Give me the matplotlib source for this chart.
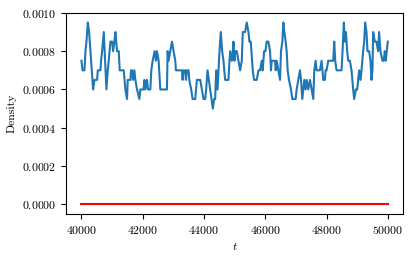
import matplotlib
matplotlib.use("Agg")
import matplotlib.pyplot as plt

plt.rcParams["font.family"] = "serif"
plt.rcParams["font.serif"] = ["cmr10"]
plt.rcParams["mathtext.fontset"] = "cm"
plt.rcParams["axes.formatter.use_mathtext"] = True
plt.rcParams["font.size"] = 8.5

t = [40000, 40033, 40098, 40131, 40163, 40207, 40250, 40294, 40337, 40380,
     40424, 40511, 40533, 40619, 40641, 40674, 40728, 40771, 40815, 40858,
     40891, 40945, 41000, 41032, 41076, 41108, 41162, 41217, 41249, 41380,
     41434, 41488, 41510, 41597, 41619, 41651, 41684, 41727, 41760, 41814,
     41889, 41922, 42030, 42052, 42085, 42139, 42172, 42248, 42280, 42324,
     42389, 42432, 42465, 42519, 42574, 42791, 42812, 42845, 42899, 42954,
     43008, 43062, 43084, 43279, 43301, 43334, 43388, 43410, 43442, 43497,
     43518, 43583, 43627, 43714, 43768, 43877, 43931, 43985, 44039, 44071,
     44115, 44158, 44202, 44245, 44289, 44332, 44365, 44397, 44419, 44441,
     44473, 44506, 44549, 44593, 44636, 44690, 44799, 44832, 44853, 44908,
     44940, 44962, 44995, 45016, 45071, 45125, 45179, 45234, 45266, 45342,
     45396, 45451, 45483, 45527, 45592, 45635, 45722, 45777, 45831, 45885,
     45918, 45961, 46005, 46047, 46102, 46156, 46188, 46210, 46319, 46341,
     46373, 46427, 46482, 46514, 46558, 46590, 46623, 46666, 46699, 46731,
     46775, 46840, 46884, 46992, 47025, 47079, 47133, 47166, 47188, 47209,
     47242, 47274, 47318, 47351, 47405, 47459, 47513, 47568, 47600, 47644,
     47676, 47785, 47839, 47894, 47948, 47970, 48002, 48056, 48164, 48219,
     48251, 48284, 48327, 48490, 48523, 48566, 48599, 48631, 48675, 48707,
     48762, 48816, 48870, 48903, 48957, 49001, 49033, 49066, 49109, 49142,
     49196, 49229, 49261, 49305, 49337, 49391, 49435, 49468, 49500, 49522,
     49576, 49630, 49685, 49717, 49761, 49826, 49869, 49902, 49934, 50000]
density = [7.5, 7.0, 7.0, 8.0, 8.5, 9.5, 9.0, 8.0, 7.0, 6.0,
           6.5, 6.5, 7.0, 7.0, 7.5, 8.0, 9.0, 7.5, 6.0, 7.0,
           7.5, 8.5, 8.5, 8.0, 8.5, 9.0, 8.0, 8.0, 7.0, 7.0,
           6.0, 5.5, 6.5, 6.5, 7.0, 7.0, 6.5, 7.0, 6.5, 6.0,
           5.5, 6.0, 6.0, 6.5, 6.0, 6.5, 6.0, 6.0, 7.0, 7.5,
           8.0, 7.5, 8.0, 7.5, 6.0, 6.0, 8.0, 7.5, 8.0, 8.5,
           8.0, 7.5, 7.0, 7.0, 6.5, 7.0, 7.0, 6.5, 7.0, 7.0,
           6.5, 6.0, 5.5, 5.5, 6.5, 6.5, 6.0, 5.5, 5.5, 6.0,
           7.0, 6.5, 6.0, 5.5, 5.0, 5.5, 5.5, 7.0, 6.5, 6.0,
           7.0, 8.0, 9.0, 8.0, 7.5, 6.5, 6.5, 7.5, 8.0, 7.5,
           8.0, 8.5, 7.5, 8.0, 8.0, 7.5, 7.0, 7.5, 9.0, 9.0,
           9.5, 9.0, 8.5, 8.5, 7.0, 6.5, 6.5, 7.0, 7.0, 7.5,
           7.0, 8.0, 8.0, 8.5, 8.5, 8.0, 7.0, 7.5, 7.5, 7.0,
           7.5, 7.0, 6.5, 8.0, 8.5, 9.5, 9.0, 8.5, 8.0, 7.0,
           6.5, 6.0, 5.5, 5.5, 6.0, 6.5, 7.0, 6.5, 6.0, 5.5,
           6.0, 6.5, 6.0, 6.5, 6.0, 6.5, 6.0, 5.5, 7.0, 7.5,
           7.0, 7.0, 7.5, 6.5, 6.5, 7.0, 7.0, 7.5, 7.5, 7.5,
           8.5, 7.5, 7.0, 7.0, 8.0, 9.5, 8.5, 9.0, 8.0, 7.5,
           7.5, 7.0, 6.0, 5.5, 6.0, 6.0, 6.5, 7.0, 6.5, 7.0,
           8.0, 8.5, 9.5, 9.0, 8.0, 8.0, 7.5, 6.5, 7.0, 9.0,
           8.5, 8.5, 8.0, 9.0, 8.0, 7.5, 7.5, 8.0, 7.5, 8.5]
density = [d * 1e-4 for d in density]

baseline_t = [40000, 50000]
baseline = [0.0, 0.0]

fig = plt.figure(figsize=(4.16, 2.58), dpi=100)
ax = fig.add_axes([0.159, 0.171, 0.81, 0.779])
ax.plot(t, density, color="#1f77b4", lw=1.5)
ax.plot(baseline_t, baseline, color="red", lw=1.5)
ax.set_ylim(-0.00005, 0.001)
ax.set_xlabel("$t$")
ax.set_ylabel("Density")

fig.savefig("out.png", dpi=100)
